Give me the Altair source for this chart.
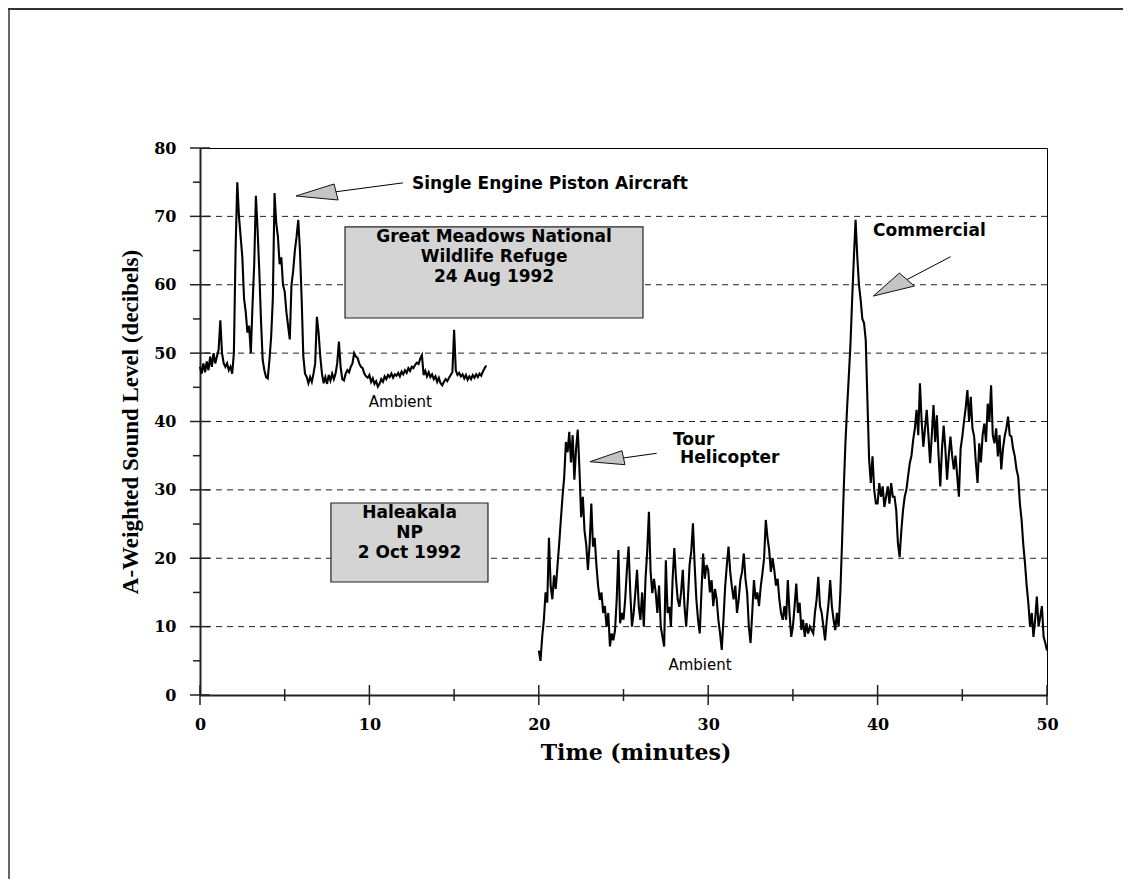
import altair as alt
import pandas as pd

W, H = 847, 547

# ---------------- data ----------------
step = 0.1                      # sampling interval (minutes)
gm_start = 0.0                  # Great Meadows record start (min)
hal_start = 20.0                # Haleakala record start (min)

gm_values = [
    48, 47, 48.5, 47.2, 48.8, 47.5, 49.5, 48, 50, 48.5,
    49.5, 50.5, 54.8, 50, 48.5, 48, 48.5, 47.5, 48, 47,
    50, 65, 75, 70, 67, 64, 58, 56, 53, 54,
    50, 57, 63, 73, 68, 62, 54.8, 49, 47.5, 46.5,
    46.3, 49, 52.4, 58, 73.4, 69, 67, 63, 64, 60,
    59, 56, 54, 52, 60, 62, 65, 67, 69.5, 65,
    58, 49.5, 47, 46.5, 45.6, 46.5, 45.8, 47, 48.5, 55.3,
    53, 49.5, 47, 45.6, 46.5, 45.5, 46.8, 46, 47, 46.2,
    47, 48.5, 51.7, 48, 46.2, 46, 47, 47.5, 47.2, 48,
    48.5, 50, 49.5, 49.3, 48.5, 48, 47.8, 47, 46.6, 46.4,
    46.8, 45.8, 46.3, 45.5, 45.9, 45.1, 45.5, 46.2, 45.8, 46.6,
    46.2, 46.8, 46.5, 47, 46.4, 46.9, 46.7, 47.1, 46.6, 47.3,
    46.9, 47.5, 47.1, 47.8, 47.4, 48, 47.8, 48.3, 48.6, 48.4,
    49.2, 49.7, 46.8, 47.4, 46.6, 47.2, 46.5, 46.9, 46.2, 46.6,
    45.8, 46.4, 45.6, 45.3, 45.8, 46.2, 45.9, 46.4, 46.8, 47.2,
    53.4, 47.5, 46.8, 47.1, 46.6, 46.9, 46.3, 46.8, 46.1, 46.6,
    46.2, 46.8, 46.4, 46.9, 46.5, 47, 46.7, 47.3, 47.8, 48.2,
]

hal_values = [
    6.5, 5, 8.5, 11, 15, 13.5, 23, 16, 14, 17.5,
    15.5, 18.8, 22, 25.6, 29, 31.9, 37, 35.5, 38.5, 34,
    38, 31.5, 36, 38.8, 33, 26, 29, 24, 22, 18.3,
    22, 28, 21.7, 23, 19, 16, 13.9, 15, 12, 13,
    10, 12, 7.1, 9, 8, 9.5, 14, 21.2, 10.5, 12,
    11, 14, 18.3, 21.7, 15, 10, 12, 15, 18.3, 13,
    11, 15, 10, 17, 21, 26.8, 18, 14.9, 17, 15,
    12, 16, 10, 8.5, 7.1, 19.7, 12, 12.9, 10, 17,
    21.5, 17, 14, 12.9, 15, 18.3, 13, 10, 14, 19,
    21, 25.1, 19, 14, 11, 9, 15, 20.7, 17, 19,
    18.3, 15, 16.8, 13, 15.5, 14, 11, 9, 6.6, 11,
    15.8, 19, 21.7, 18, 15.8, 14, 16, 12, 14, 16.8,
    18, 20.7, 17, 14.9, 10, 7.6, 12, 16.8, 14, 15,
    13, 15.8, 17.8, 20, 25.6, 23, 21.2, 18, 20, 18.3,
    16, 17, 14, 12, 11, 13, 11, 16.8, 12, 8.5,
    10, 13, 16.3, 12, 13.5, 9.5, 11, 8.5, 10.5, 9,
    10, 9.5, 9, 12, 14, 17.3, 13, 12, 10, 8,
    11, 13.3, 16.8, 13, 11, 9.5, 12, 10, 15, 22.2,
    30, 36.8, 42, 46.6, 51.4, 58, 64, 69.5, 64.1, 60,
    57.8, 55, 54.4, 51.9, 43, 34.4, 31, 34.9, 30, 28,
    28, 31, 29, 30.5, 27.5, 29, 30.5, 28, 31, 29,
    29, 27, 22.2, 20.2, 24, 27, 29, 30, 32, 33.9,
    35, 37.3, 39, 41.7, 38, 45.6, 40, 36.3, 39, 41.7,
    38, 33.9, 38, 42.4, 37, 40.9, 35, 30.5, 36, 39.4,
    36, 31.5, 35, 37.8, 35, 33, 35, 32, 29, 36,
    37.8, 40, 42, 44.6, 40, 43.6, 39, 37.8, 34, 31,
    36.8, 34, 38, 39.7, 37, 42.6, 40, 45.3, 38, 36.8,
    39, 34.9, 38, 33, 36, 37.8, 39, 40.7, 38, 37.8,
    36, 34.9, 33, 31.9, 28, 25.6, 22, 19.3, 16, 13.4,
    10, 12, 8.5, 11, 14.4, 10, 11.4, 13, 8.5, 7.6,
    6.5,
]

x_labels = [0, 10, 20, 30, 40, 50]
x_minor = [5, 15, 25, 35, 45]
y_labels = [0, 10, 20, 30, 40, 50, 60, 70, 80]
y_minor = [5, 15, 25, 35, 45, 55, 65, 75]
grid_levels = [10, 20, 30, 40, 50, 60, 70]

# annotation boxes (data units)
box_t1 = [8.56, 7.73]
box_t2 = [26.15, 17.0]
box_db1 = [68.45, 28.08]
box_db2 = [55.14, 16.53]

box_text = ["Great Meadows National", "Wildlife Refuge", "24 Aug 1992",
            "Haleakala", "NP", "2 Oct 1992"]
box_text_t = [17.36, 17.36, 17.36, 12.37, 12.37, 12.37]
box_text_db = [66.98, 64.06, 61.13, 26.6, 23.7, 20.77]

label_text = ["Single Engine Piston Aircraft", "Commercial", "Tour", "Helicopter"]
label_t = [12.51, 39.73, 27.92, 28.34]
label_db = [74.73, 67.8, 37.3, 34.6]

ambient_t = [11.83, 29.52]
ambient_db = [42.8, 4.39]

arrow_tip_t = [5.67, 23.02, 39.75]
arrow_tip_db = [72.98, 34.12, 58.35]
arrow_from_t = [8.03, 24.97, 41.72]
arrow_from_db = [73.6, 34.66, 60.74]
arrow_to_t = [11.98, 26.96, 44.31]
arrow_to_db = [74.9, 35.35, 64.1]
arrow_head = ["M0,0L38,-12L42,4Z", "M0,0L32,-11L35,3Z", "M0,0L26,-23L41,-10Z"]

# ---------------- tables ----------------
rows = [{"t": round(gm_start + i * step, 2), "db": v, "site": "Great Meadows"}
        for i, v in enumerate(gm_values)]
rows += [{"t": round(hal_start + i * step, 2), "db": v, "site": "Haleakala"}
         for i, v in enumerate(hal_values)]
trace_df = pd.DataFrame(rows)

xs = alt.Scale(domain=[0, 50], nice=False, zero=False)
ys = alt.Scale(domain=[0, 80], nice=False, zero=False)

X = alt.X("t:Q", scale=xs, title="Time (minutes)")
Y = alt.Y("db:Q", scale=ys, title="A-Weighted Sound Level (decibels)")

x_axis = alt.Axis(values=x_labels, ticks=False, grid=False, domain=True,
                  domainColor="#222", domainWidth=2, labelFlush=False,
                  labelFont="DejaVu Serif", labelFontWeight="bold", labelFontSize=16,
                  labelColor="black", labelPadding=21, labelBaseline="top",
                  titleFont="DejaVu Serif", titleFontWeight="bold", titleFontSize=22,
                  titleColor="black", titleX=W / 2 + 12, titleY=57, titleBaseline="middle")
y_axis = alt.Axis(values=y_labels, ticks=False, grid=False, domain=True,
                  domainColor="#222", domainWidth=2, labelFlush=False,
                  labelFont="DejaVu Serif", labelFontWeight="bold", labelFontSize=16,
                  labelColor="black", labelPadding=24,
                  titleFont="Liberation Serif", titleFontWeight="bold", titleFontSize=23,
                  titleColor="black", titleAngle=270, titleX=-70, titleY=H / 2,
                  titleBaseline="middle", titleAlign="center")

one = pd.DataFrame({"k": [0]})

grid = alt.Chart(pd.DataFrame({"db": grid_levels})).mark_rule(
    color="#222", strokeWidth=1, strokeDash=[6, 5]).encode(y=Y)

boxes = alt.Chart(pd.DataFrame({"t": box_t1, "t2": box_t2, "db": box_db1, "db2": box_db2})).mark_rect(
    fill="#d4d4d4", stroke="#222", strokeWidth=1.2).encode(x=X, x2="t2:Q", y=Y, y2="db2:Q")

traces = alt.Chart(trace_df).mark_line(color="black", strokeWidth=2.1, strokeJoin="miter").encode(
    x=alt.X("t:Q", scale=xs, axis=x_axis, title="Time (minutes)"),
    y=alt.Y("db:Q", scale=ys, axis=y_axis, title="A-Weighted Sound Level (decibels)"),
    detail="site:N")

arrow_lines = alt.Chart(pd.DataFrame({"t": arrow_from_t, "db": arrow_from_db,
                                      "t2": arrow_to_t, "db2": arrow_to_db})).mark_rule(
    color="black", strokeWidth=1).encode(x=X, y=Y, x2="t2:Q", y2="db2:Q")

arrow_heads = alt.Chart(pd.DataFrame({"t": arrow_tip_t, "db": arrow_tip_db, "shape": arrow_head})).mark_point(
    filled=True, fill="#c4c4c4", stroke="#111", strokeWidth=1, opacity=1, size=4).encode(
    x=X, y=Y, shape=alt.Shape("shape:N", scale=None, legend=None))

box_labels = alt.Chart(pd.DataFrame({"t": box_text_t, "db": box_text_db, "txt": box_text})).mark_text(
    font="DejaVu Sans", fontWeight="bold", fontSize=17, align="center", baseline="middle",
    color="black").encode(x=X, y=Y, text="txt:N")

annot = alt.Chart(pd.DataFrame({"t": label_t, "db": label_db, "txt": label_text})).mark_text(
    font="DejaVu Sans", fontWeight="bold", fontSize=17, align="left", baseline="middle",
    color="black").encode(x=X, y=Y, text="txt:N")

ambient = alt.Chart(pd.DataFrame({"t": ambient_t, "db": ambient_db, "txt": ["Ambient"] * 2})).mark_text(
    font="DejaVu Sans", fontSize=15, align="center", baseline="middle", color="black").encode(
    x=X, y=Y, text="txt:N")

y_major = alt.Chart(pd.DataFrame({"db": y_labels})).mark_rule(color="#222", strokeWidth=1.5).encode(
    y=Y, x=alt.value(-10), x2=alt.value(10))
y_min = alt.Chart(pd.DataFrame({"db": y_minor})).mark_rule(color="#222", strokeWidth=1.5).encode(
    y=Y, x=alt.value(-7), x2=alt.value(0))
x_major = alt.Chart(pd.DataFrame({"t": x_labels})).mark_rule(color="#222", strokeWidth=1.5).encode(
    x=X, y=alt.value(H - 10), y2=alt.value(H + 10))
x_min = alt.Chart(pd.DataFrame({"t": x_minor})).mark_rule(color="#222", strokeWidth=1.5).encode(
    x=X, y=alt.value(H - 6), y2=alt.value(H + 6))

frame_top = alt.Chart(one).mark_rule(color="#333", strokeWidth=2).encode(
    x=alt.value(-192), x2=alt.value(W + 80), y=alt.value(-139))
frame_left = alt.Chart(one).mark_rule(color="#333", strokeWidth=1.5).encode(
    x=alt.value(-191), y=alt.value(-140), y2=alt.value(H + 190))

chart = alt.layer(
    grid, boxes, traces, arrow_lines, arrow_heads, box_labels, annot, ambient,
    y_major, y_min, x_major, x_min, frame_top, frame_left
).properties(
    width=W, height=H,
    autosize=alt.AutoSizeParams(type="none"),
    padding={"left": 192, "top": 140, "right": 76, "bottom": 184},
    background="white",
).configure_view(stroke="black", strokeWidth=1)

chart.save("out.html", embed_options={"renderer": "svg", "actions": False})
